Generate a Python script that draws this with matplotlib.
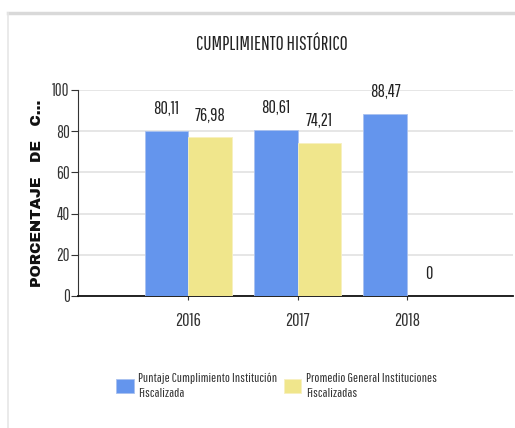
import numpy as np
import matplotlib
matplotlib.use('Agg')
import matplotlib.pyplot as plt

years = ['2016', '2017', '2018']
institucion = [80.11, 80.61, 88.47]
promedio = [76.98, 74.21, 0.0]
series_names = ['Puntaje Cumplimiento Institución\nFiscalizada',
                'Promedio General Instituciones\nFiscalizadas']
yticks = [0, 20, 40, 60, 80, 100]

# the reference uses a tall, narrow face
plt.rcParams['font.family'] = ['Pathway Gothic One', 'Archivo Narrow', 'DejaVu Sans']

blue = '#6495ED'
yellow = '#F0E68C'

fig = plt.figure(figsize=(5.15, 4.28), dpi=100)

# light panel border (top and left)
fig.add_artist(plt.Line2D([8/515, 1], [1 - 13/428] * 2, color='#d9d9d9', lw=2.5))
fig.add_artist(plt.Line2D([8/515] * 2, [0, 1 - 13/428], color='#e6e6e6', lw=1.2))

ax = fig.add_axes([78/515, 1 - 296/428, 1 - 78/515 - 2/515, 206/428])

x = np.arange(len(years))
w = 0.40
b1 = ax.bar(x - w/2, institucion, w, color=blue, edgecolor='#a9c1f0', lw=0.6, zorder=3)
b2 = ax.bar(x + w/2, promedio, w, color=yellow, edgecolor='#f7f0c0', lw=0.6, zorder=3)

for bars, vals in ((b1, institucion), (b2, promedio)):
    for rect, v in zip(bars, vals):
        ax.annotate(f'{v:.2f}'.replace('.', ',') if v else '0',
                    (rect.get_x() + rect.get_width()/2, v),
                    xytext=(0, 10), textcoords='offset points',
                    ha='center', va='bottom', fontsize=13, color='#222222')

ax.set_xlim(-1.01, 2.97)
ax.set_ylim(0, 100)
ax.set_xticks(x)
ax.set_xticklabels(years, fontsize=13)
ax.set_yticks(yticks)
ax.set_yticklabels([str(t) for t in yticks], fontsize=12)
ax.tick_params(axis='x', length=3, pad=9, colors='#333333')
ax.tick_params(axis='y', length=5, pad=1, colors='#333333')
ax.grid(axis='y', color='#e2e2e2', lw=1.2, zorder=0)
for s in ('top', 'right'):
    ax.spines[s].set_visible(False)
ax.spines['left'].set_color('#333333')
ax.spines['bottom'].set_color('#111111')
ax.spines['bottom'].set_linewidth(1.3)

fig.text(37/515, 1 - 193/428, 'PORCENTAJE   DE   C...', rotation=90, ha='center', va='center',
         fontsize=10.5, family=['Archivo Black', 'DejaVu Sans'], color='#111111')

fig.text(272/515, 1 - 44/428, 'CUMPLIMIENTO HISTÓRICO', ha='center', va='center',
         fontsize=14, color='#222222')

leg = fig.legend([b1, b2], series_names, loc='center left', bbox_to_anchor=(104/515, 1 - 386/428),
                 ncol=2, frameon=False, fontsize=9.7, handlelength=1.3, handleheight=1.2,
                 handletextpad=0.35, columnspacing=0.45, labelspacing=0.5)
for t in leg.get_texts():
    t.set_color('#333333')
    t.set_linespacing(1.45)

fig.savefig('out.png', dpi=100)
